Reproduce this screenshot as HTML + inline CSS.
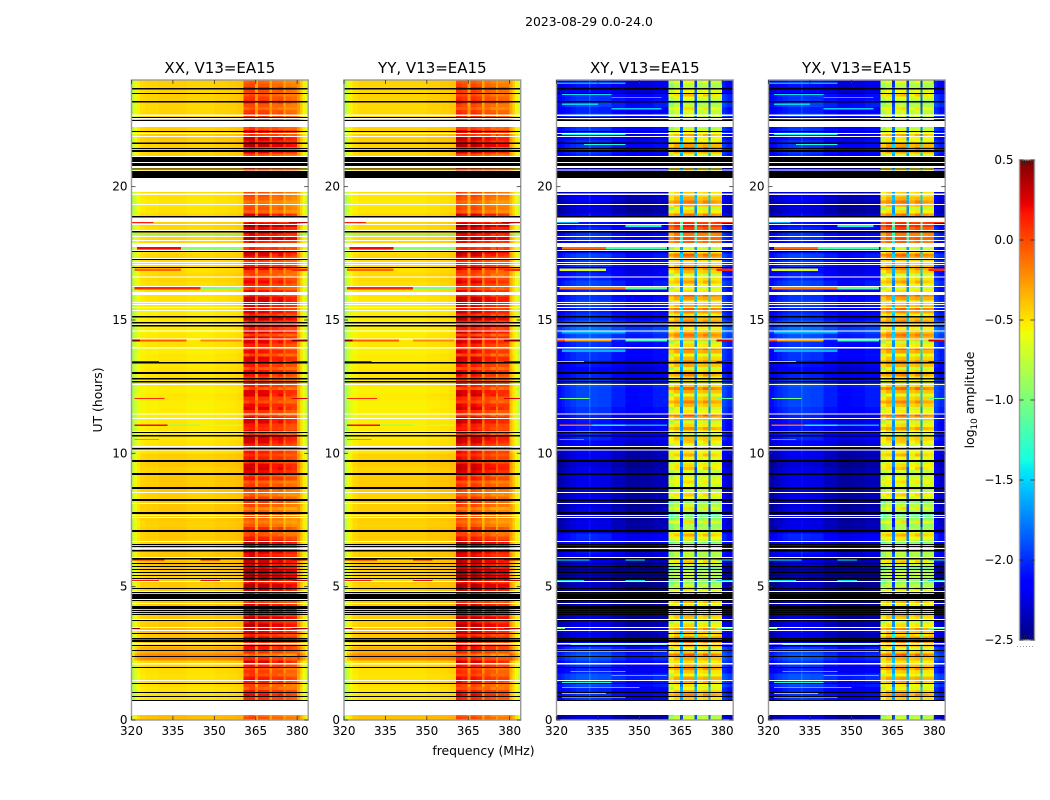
<!DOCTYPE html>
<html>
<head>
<meta charset="utf-8">
<title>2023-08-29 amplitude waterfall</title>
<style>
html,body{margin:0;padding:0;background:#fff;}
svg{display:block;font-family:"DejaVu Sans","Liberation Sans",sans-serif;fill:#000;}
</style>
</head>
<body>
<svg id="figure" xmlns="http://www.w3.org/2000/svg" width="1050" height="800" viewBox="0 0 1050 800">
  <text x="589" y="26" font-size="12.4" text-anchor="middle">2023-08-29 0.0-24.0</text>
  <text transform="translate(102,400) rotate(-90)" font-size="12.4" text-anchor="middle">UT (hours)</text>
  <text x="483.5" y="755" font-size="12.4" text-anchor="middle">frequency (MHz)</text>
  <text transform="translate(974,400) rotate(-90)" font-size="12.4" text-anchor="middle">log<tspan font-size="8.8" dy="3">10</tspan><tspan dy="-3"> amplitude</tspan></text>
</svg>
<script>
/* ---------- colour and axis limits ---------- */
const colorMin = -2.5;
const colorMax = 0.5;
const freqMin = 320;
const freqMax = 384;
const hourMin = 0;
const hourMax = 24;
const xTicks = [320, 335, 350, 365, 380];
const yTicks = [0, 5, 10, 15, 20];
const colorTicks = [0.5, 0.0, -0.5, -1.0, -1.5, -2.0, -2.5];
const panelTitles = ['XX, V13=EA15', 'YY, V13=EA15', 'XY, V13=EA15', 'YX, V13=EA15'];
const panelKeys = ['xx', 'yy', 'xy', 'yx'];

/* ---------- frequency channels (MHz) ---------- */
const channelEdges = [320,321,322,323,325,327,330,331.7,332.3,335,340,345,350,355,358,360.5,
  362.5,364.8,365.8,368,370,370.8,373,375,375.8,378,380,381,382,383,384];
/* 0 = quiet band, 1 = strong-signal band */
const channelGroup = [0,0,0,0,0,0,0,0,0,0,0,0,0,0,0, 1,1,1,1,1,1,1,1,1,1,1, 0,0,0,0];
/* log10 amplitude offset of each channel, one array per correlation */
const xxChannels = [-.3,-.15,-.08,-.02,0,0,.02,.02,.02,.02,0,0,.02,.03,.05, .05,.07,-.25,.03,.02,-.25,-.05,-.03,-.25,-.1,-.13, .2,.05,-.08,-.22];
const yyChannels = [-.33,-.18,-.1,-.03,0,0,0,0,0,0,0,0,.02,.03,.05, .1,.05,-.24,.07,.02,-.24,-.03,-.07,-.22,-.1,-.1, .15,.02,-.1,-.22];
const xyChannels = [-.1,-.1,-.05,0,.04,.08,.08,.22,.08,.06,-.04,-.12,-.1,-.05,-.05, -.15,0,-1.2,.05,.05,-1.2,-.05,0,-1.15,-.05,-.05, .1,.05,0,0];
const yxChannels = [-.1,-.1,-.05,0,.04,.08,.08,.2,.08,.06,-.04,-.12,-.1,-.05,-.05, -.12,.02,-1.2,.02,.05,-1.2,-.05,0,-1.15,-.05,-.05, .1,.05,0,0];
/* how strongly each channel follows the half-block ripple */
const channelRipple = [0,0,0,0,0,0,0,0,0,0,0,0,0,0,0, 1,.7,0,.9,1,0,.6,1,0,.8,.6, 0,0,0,0];

/* ---------- quarter-hour amplitude levels (index 0 = 00:00 UT) ---------- */
const parallelQuiet = [
  -.38,-.4,-.45,-.5,-.5,-.48,-.5,-.48,-.46,-.2,-.32,-.38,
  -.4,-.38,-.42,-.42,-.42,-.42,-.44,-.42,-.42,-.44,-.42,-.4,
  -.42,-.42,-.44,-.42,-.42,-.44,-.42,-.42,-.42,-.44,-.42,-.42,
  -.42,-.44,-.42,-.44,-.5,-.5,-.52,-.52,-.52,-.54,-.54,-.54,
  -.52,-.54,-.52,-.5,-.5,-.52,-.52,-.54,-.5,-.52,-.54,-.52,
  -.52,-.54,-.52,-.5,-.5,-.48,-.46,-.48,-.48,-.46,-.48,-.46,
  -.46,-.48,-.46,-.46,-.5,-.52,-.5,-.48,-.48,-.48,-.46,-.46,
  -.46,-.44,-.44,-.42,-.44,-.44,-.44,-.46,-.46,-.44,-.46,-.44];
const parallelStrong = [
  -.05,-.05,-.05,.05,.1,-.05,.12,.02,.1,.05,.05,.15,
  .22,.2,.28,.3,.28,.2,.25,.22,.32,.38,.38,.2,
  .25,.25,.22,.1,-.05,-.1,-.12,-.1,-.05,0,-.08,0,
  .1,.18,.22,.12,.12,.1,.25,.15,.1,.2,.05,.15,
  .05,.2,.1,0,.15,.1,.2,.15,.08,.2,.25,.3,
  .3,.22,.18,.25,.15,.05,.1,0,.1,.05,.3,.3,
  .35,.3,.38,.1,-.12,-.1,-.08,-.05,0,0,0,0,
  .05,.2,.3,.25,.15,.3,-.05,0,-.05,.02,-.02,-.05];
const parallelRipple = [
  -.15,.1,-.2,.12,-.22,.15,-.18,-.08,.14,-.25,.1,-.12,
  -.2,.08,-.15,-.22,.1,-.2,-.1,.12,-.25,-.1,-.18,.1,
  -.12,-.2,.1,-.18,.14,-.1,.12,-.15,.1,-.18,.12,-.12,
  -.2,.08,-.22,-.1,-.25,.12,-.3,-.1,.15,-.28,.18,-.2,
  .2,-.3,-.12,.15,-.25,.12,-.3,-.15,.15,-.28,-.2,-.25,
  -.3,-.12,.1,-.28,-.2,.15,-.18,.2,-.12,.2,-.3,-.2,
  -.25,-.12,-.3,.1,.08,-.1,.06,-.08,0,0,-.1,.1,
  -.12,-.25,-.18,-.3,-.2,-.3,.15,-.15,.18,-.1,.12,-.08];
const crossQuiet = [
  -2.35,-2.2,-2.2,-2.05,-2.1,-2.0,-1.95,-2.1,-2.05,-1.95,-2.0,-2.2,
  -2.3,-2.2,-2.3,-2.35,-2.4,-2.4,-2.45,-2.4,-2.4,-2.45,-2.5,-2.35,
  -2.2,-2.15,-2.2,-2.1,-2.3,-2.3,-2.35,-2.3,-2.35,-2.3,-2.35,-2.3,
  -2.3,-2.3,-2.35,-2.3,-2.25,-2.2,-2.1,-2.15,-2.15,-2.1,-2.05,-2.0,
  -2.0,-2.0,-1.95,-2.1,-2.2,-2.15,-2.05,-2.05,-2.05,-1.95,-1.85,-1.95,
  -2.05,-2.1,-2.0,-2.05,-2.1,-2.0,-2.1,-2.15,-2.05,-2.0,-2.15,-2.15,
  -2.05,-2.1,-2.15,-2.2,-2.35,-2.3,-2.25,-2.3,-2.2,-2.2,-2.2,-2.2,
  -2.1,-2.05,-2.05,-2.15,-2.05,-2.1,-2.0,-2.1,-2.0,-2.05,-2.2,-2.15];
const crossStrong = [
  -.7,-.7,-.6,-.45,-.4,-.55,-.3,-.45,-.35,-.35,-.45,-.35,
  -.2,-.4,-.5,-.45,-.65,-.55,-.7,-.6,-.75,-.85,-.8,-.7,
  -.65,-.75,-.7,-.55,-.6,-.85,-.9,-.8,-.75,-.65,-.75,-.65,
  -.6,-.7,-.5,-.6,-.55,-.65,-.4,-.45,-.5,-.35,-.55,-.4,
  -.4,-.35,-.45,-.5,-.45,-.35,-.4,-.3,-.5,-.3,-.35,-.35,
  -.35,-.25,-.35,-.3,-.5,-.55,-.45,-.4,-.35,-.3,-.45,-.2,
  -.05,-.1,.12,-.35,-.5,-.4,-.35,-.45,-.4,-.4,-.4,-.4,
  -.45,-.3,-.3,-.55,-.6,-.35,-.55,-.7,-.75,-.65,-.6,-.8];
const crossRipple = [
  -.2,.2,-.25,.25,-.3,.2,-.35,.25,-.2,.3,-.25,.2,
  -.3,.2,-.25,.15,-.3,.2,-.35,.15,-.25,.2,-.3,.3,
  -.2,.25,-.3,.2,-.25,.35,-.2,.3,-.25,.2,-.3,.15,
  -.25,.3,-.2,.25,-.3,.2,-.35,.2,-.25,.3,-.2,.2,
  -.3,.25,-.2,.3,-.35,.2,-.25,.2,-.3,.15,-.25,.2,
  -.2,.15,-.3,.25,-.2,.25,-.3,.2,-.25,.2,-.3,.1,
  -.15,.1,-.1,.2,-.3,.25,-.2,.25,-.2,.2,-.2,.2,
  -.25,.2,-.3,.25,-.2,.3,-.25,.2,-.25,.25,-.3,.2];

/* ---------- short interference events ---------- */
const eventHour = [18.64,18.64,18.2,18.2,17.64,17.64,16.84,16.84,16.14,16.14,14.2,14.2,14.2,14.2,13.42,13.42,
  12.03,12.03,11.02,11.02,11.02,10.5,5.98,5.98,5.98,5.2,5.2,5.2,3.42,3.42,2.8,2.55,1.8,1.65,1.38,1.2,.98,.83,
  23.85,23.44,23.32,23.06,22.9,21.94,21.56,21.41,18.49,14.5,13.8];
const eventSpan = [.08,.08,.04,.04,.1,.1,.1,.1,.1,.1,.11,.11,.11,.11,.04,.04,
  .05,.05,.06,.06,.06,.03,.08,.08,.08,.05,.05,.05,.06,.06,.04,.1,.04,.04,.04,.04,.04,.04,
  .06,.05,.05,.05,.05,.05,.05,.04,.08,.1,.1];
const eventFreqLow = [320,377,321,380,322,338,321,378,321,345,320,323,345,378,320,378,
  321,378,321,333,345,321,320,345,378,320,345,378,320,378,325,320,325,340,322,322,322,322,
  320,322,340,322,340,322,330,322,345,322,322];
const eventFreqHigh = [328,384,360,384,338,360,338,384,345,360,323,340,360,384,330,384,
  332,384,333,345,360,330,332,352,384,330,352,384,323,384,360,360,345,360,340,350,338,345,
  345,340,358,335,358,345,345,360,358,345,345];
const eventParallel = [.15,.35,-1.1,-1.1,.2,-.95,-.1,.1,.1,-1.0,.5,-.05,-.2,.45,.25,.3,
  .1,.25,.2,-.9,-.7,-.2,.2,.2,.35,.15,.2,.3,.5,.4,null,null,null,null,null,null,null,null,
  null,null,null,null,null,null,null,null,null,null,null];
const eventCross = [-1.6,.1,null,null,-.1,-1.2,-.65,.1,-.15,-1.1,0,-.3,-1.2,.3,-.4,.3,
  -1.0,-1.1,-.1,-1.4,-1.6,-1.6,-1.4,-1.4,-1.4,-1.5,-1.5,-1.5,-1.0,-1.1,-1.3,-1.45,-1.55,-1.5,-1.35,-1.5,-1.4,-1.6,
  -1.6,-1.45,-1.6,-1.5,-1.5,-1.4,-1.35,-1.1,-1.4,-1.6,-1.6];

/* ---------- flagged time ranges, hours UT [from, to] ---------- */
const blackFlags = [[23.64,23.70],[23.48,23.51],[23.16,23.21],[22.58,22.61],[22.46,22.50],[22.05,22.09],
  [21.60,21.66],[21.41,21.45],[21.30,21.38],[20.93,21.11],[20.78,20.89],[20.64,20.68],[20.33,20.59],
  [18.84,18.90],[18.28,18.34],[17.55,17.59],[17.25,17.29],[16.95,16.99],[15.09,15.15],[14.87,14.93],
  [14.76,14.81],[13.37,13.43],[12.98,13.05],[12.77,12.83],[12.66,12.71],[10.76,10.80],[10.63,10.69],
  [10.14,10.20],[9.68,9.75],[9.19,9.26],[8.66,8.74],[8.21,8.29],[7.73,7.80],[7.05,7.13],[6.56,6.60],
  [6.49,6.53],[6.32,6.38],[6.02,6.08],[5.85,5.89],[5.74,5.78],[5.63,5.66],[5.51,5.55],[5.40,5.44],
  [5.29,5.33],[4.91,4.95],[4.76,4.80],[4.54,4.73],[4.46,4.50],[4.16,4.28],[4.09,4.13],[4.01,4.05],
  [3.94,3.98],[3.71,3.75],[3.23,3.26],[3.02,3.08],[2.93,3.00],[2.78,2.81],[2.59,2.63],[2.36,2.40],
  [1.95,1.99],[1.35,1.39],[1.01,1.05],[.86,.90],[.71,.75]];
const whiteFlags = [[22.65,22.71],[22.54,22.58],[22.24,22.46],[21.98,22.01],[21.86,21.90],[21.11,21.15],
  [20.89,20.93],[20.70,20.78],[20.61,20.64],[19.80,20.33],[19.69,19.74],[19.31,19.35],[18.68,18.84],
  [18.56,18.60],[18.34,18.38],[18.11,18.15],[17.96,18.00],[17.74,17.89],[17.59,17.63],[17.29,17.33],
  [17.14,17.18],[17.06,17.10],[16.59,16.63],[16.24,16.28],[15.94,16.05],[15.64,15.68],[15.56,15.60],
  [15.45,15.49],[15.34,15.38],[14.83,14.87],[14.57,14.61],[14.27,14.31],[13.93,13.99],[12.56,12.60],
  [11.46,11.49],[11.29,11.33],[10.80,10.82],[10.24,10.28],[10.11,10.14],[8.51,8.55],[8.10,8.14],
  [7.65,7.69],[7.58,7.61],[6.68,6.71],[6.41,6.45],[6.08,6.11],[5.18,5.21],[4.80,4.84],[4.50,4.54],
  [4.35,4.39],[3.75,3.79],[3.45,3.49],[3.34,3.38],[2.83,2.89],[2.08,2.14],[1.46,1.50],[.19,.71]];

/* ---------- layout ---------- */
const NS = 'http://www.w3.org/2000/svg';
const svg = document.getElementById('figure');
const plotTop = 80;
const plotBottom = 720;
const panelLefts = [131.5, 344, 556.5, 768.5];
const panelWidth = 176.7;
const blockHours = 0.25;

function yScale(hour) {
  return plotBottom - (hour - hourMin) / (hourMax - hourMin) * (plotBottom - plotTop);
}
function xScale(panelIndex, freq) {
  return panelLefts[panelIndex] + (freq - freqMin) / (freqMax - freqMin) * panelWidth;
}
function clamp01(v) { return Math.max(0, Math.min(1, v)); }
function jet(value) {
  const t = clamp01((value - colorMin) / (colorMax - colorMin));
  const r = clamp01(t < .35 ? 0 : t < .66 ? (t - .35) / .31 : t < .89 ? 1 : 1 - (t - .89) / .11 * .5);
  const g = clamp01(t < .125 ? 0 : t < .375 ? (t - .125) / .25 : t < .64 ? 1 : t < .91 ? 1 - (t - .64) / .27 : 0);
  const b = clamp01(t < .11 ? .5 + t / .11 * .5 : t < .34 ? 1 : t < .65 ? 1 - (t - .34) / .31 : 0);
  return 'rgb(' + Math.round(r * 255) + ',' + Math.round(g * 255) + ',' + Math.round(b * 255) + ')';
}
function makeRect(parent, x, y, w, h, fill) {
  const r = document.createElementNS(NS, 'rect');
  r.setAttribute('x', x.toFixed(2));
  r.setAttribute('y', y.toFixed(2));
  r.setAttribute('width', Math.max(w, 0).toFixed(2));
  r.setAttribute('height', Math.max(h, 0).toFixed(2));
  r.setAttribute('fill', fill);
  parent.appendChild(r);
  return r;
}
function makeLine(parent, x1, y1, x2, y2, stroke, width) {
  const l = document.createElementNS(NS, 'line');
  l.setAttribute('x1', x1);
  l.setAttribute('y1', y1);
  l.setAttribute('x2', x2);
  l.setAttribute('y2', y2);
  l.setAttribute('stroke', stroke);
  l.setAttribute('stroke-width', width);
  parent.appendChild(l);
  return l;
}
function makeText(parent, x, y, str, size, anchor) {
  const t = document.createElementNS(NS, 'text');
  t.setAttribute('x', x);
  t.setAttribute('y', y);
  t.setAttribute('font-size', size);
  t.setAttribute('text-anchor', anchor);
  t.textContent = str;
  parent.appendChild(t);
  return t;
}

const channelTables = { xx: xxChannels, yy: yyChannels, xy: xyChannels, yx: yxChannels };

panelKeys.forEach(function (key, p) {
  const isCross = (key === 'xy' || key === 'yx');
  const quiet = isCross ? crossQuiet : parallelQuiet;
  const strong = isCross ? crossStrong : parallelStrong;
  const ripple = isCross ? crossRipple : parallelRipple;
  const offsets = channelTables[key];
  const left = panelLefts[p];

  const panel = document.createElementNS(NS, 'g');
  
  
  svg.appendChild(panel);

  const heat = document.createElementNS(NS, 'g');
  
  
  heat.setAttribute('shape-rendering', 'crispEdges');
  panel.appendChild(heat);

  /* heatmap cells */
  quiet.forEach(function (level, block) {
    const y0 = yScale((block + 1) * blockHours);
    const yMid = yScale((block + .5) * blockHours);
    const y1 = yScale(block * blockHours);
    offsets.forEach(function (offset, c) {
      const base = channelGroup[c] === 1 ? strong[block] : quiet[block];
      const x0 = xScale(p, channelEdges[c]);
      const x1 = xScale(p, channelEdges[c + 1]);
      const cell = makeRect(heat, x0, y0, x1 - x0 + .3, y1 - y0 + .3, jet(base + offset));
      
      
      if (channelRipple[c] > 0) {
        const upper = makeRect(heat, x0, y0, x1 - x0 + .3, yMid - y0, jet(base + offset + ripple[block] * channelRipple[c]));
        
        
      }
    });
  });

  /* interference events */
  eventHour.forEach(function (hour, e) {
    const value = isCross ? eventCross[e] : eventParallel[e];
    if (value === null) return;
    const x0 = xScale(p, eventFreqLow[e]);
    const x1 = xScale(p, eventFreqHigh[e]);
    const y0 = yScale(hour + eventSpan[e]);
    const y1 = yScale(hour);
    const mark = makeRect(heat, x0, y0, x1 - x0, y1 - y0, jet(value));
    
    
  });

  /* flagged rows */
  blackFlags.forEach(function (span) {
    const y0 = yScale(span[1]);
    const y1 = yScale(span[0]);
    const band = makeRect(heat, left, y0, panelWidth, y1 - y0, '#000');
    
    
  });
  whiteFlags.forEach(function (span) {
    const y0 = yScale(span[1]);
    const y1 = yScale(span[0]);
    const band = makeRect(heat, left, y0, panelWidth, y1 - y0, '#fff');
    
    
  });

  /* frame */
  const frame = makeRect(panel, left, plotTop, panelWidth, plotBottom - plotTop, 'none');
  frame.setAttribute('stroke', '#9a9a9a');
  frame.setAttribute('stroke-width', '1.4');
  
  

  /* x ticks */
  xTicks.forEach(function (tick) {
    const x = xScale(p, tick);
    const a = makeLine(panel, x, plotBottom, x, plotBottom - 4, '#333', .8);
    
    
    const b = makeLine(panel, x, plotTop, x, plotTop + 4, '#333', .8);
    
    
    const label = makeText(panel, x, 735, String(tick), 12, 'middle');
    
    
  });

  /* y ticks */
  yTicks.forEach(function (tick) {
    const y = yScale(tick);
    const a = makeLine(panel, left, y, left + 4, y, '#333', .8);
    
    
    const b = makeLine(panel, left + panelWidth, y, left + panelWidth - 4, y, '#333', .8);
    
    
    const label = makeText(panel, left - 4, y + 4, String(tick), 12, 'end');
    
    
  });

  const title = makeText(panel, left + panelWidth / 2, 73, panelTitles[p], 15, 'middle');
  
  
});

/* ---------- colorbar ---------- */
const barLeft = 1019.5;
const barWidth = 15;
const barTop = 160;
const barBottom = 640;
function barScale(value) {
  return barBottom - (value - colorMin) / (colorMax - colorMin) * (barBottom - barTop);
}
const bar = document.createElementNS(NS, 'g');


svg.appendChild(bar);
const barCells = document.createElementNS(NS, 'g');
barCells.setAttribute('shape-rendering', 'crispEdges');


bar.appendChild(barCells);
const barLevels = 256;
for (let i = 0; i < barLevels; i++) {
  const v0 = colorMin + (colorMax - colorMin) * i / barLevels;
  const v1 = colorMin + (colorMax - colorMin) * (i + 1) / barLevels;
  const y0 = barScale(v1);
  const y1 = barScale(v0);
  const step = makeRect(barCells, barLeft, y0, barWidth, y1 - y0 + .3, jet((v0 + v1) / 2));
  
  
}
const barFrame = makeRect(bar, barLeft, barTop, barWidth, barBottom - barTop, 'none');
barFrame.setAttribute('stroke', '#9a9a9a');
barFrame.setAttribute('stroke-width', '1.4');


colorTicks.forEach(function (tick) {
  const y = barScale(tick);
  const a = makeLine(bar, barLeft, y, barLeft + 4, y, '#222', .8);
  
  
  const b = makeLine(bar, barLeft + barWidth, y, barLeft + barWidth - 4, y, '#222', .8);
  
  
  const text = (tick < 0 ? '\u2212' : '') + Math.abs(tick).toFixed(1);
  const label = makeText(bar, barLeft - 6, y + 4, text, 12, 'end');
  
  
});
for (let i = 1; i < 6; i++) {
  const x = barLeft + i * barWidth / 6;
  const topMinor = makeLine(bar, x, barTop, x, barTop + 5, '#222', .7);
  
  
  const bottomMinor = makeLine(bar, x, barBottom, x, barBottom - 5, '#222', .7);
  
  
}
const barDots = makeLine(bar, 1017, 646.5, 1035, 646.5, '#999', 1);
barDots.setAttribute('stroke-dasharray', '1 2');


</script>
</body>
</html>
